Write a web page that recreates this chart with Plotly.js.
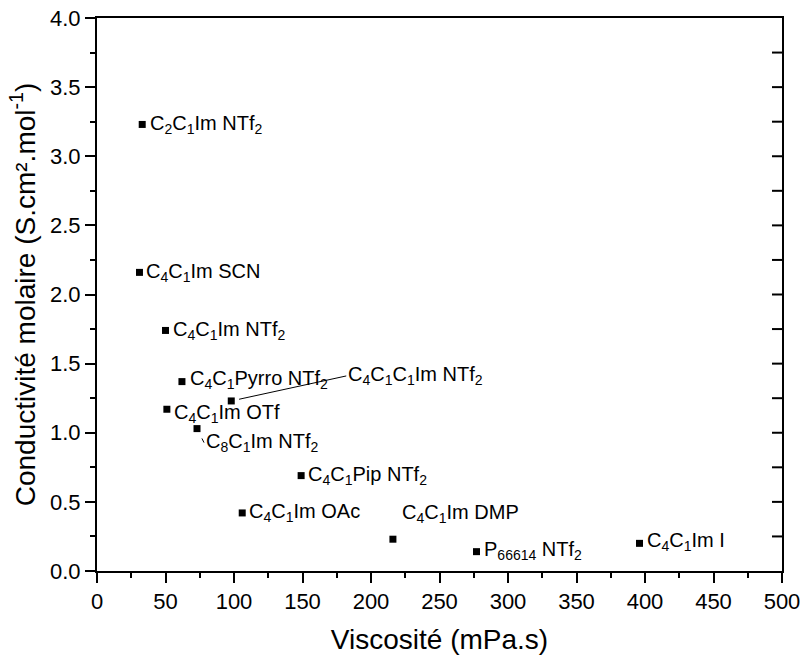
<!DOCTYPE html>
<html>
<head>
<meta charset="utf-8">
<script src="https://cdn.plot.ly/plotly-3.0.1.min.js"></script>
<style>html,body{margin:0;padding:0;background:#fff;}#chart{width:801px;height:655px;}</style>
</head>
<body>
<div id="chart"></div>
<script>
// Data
const labels = [
  'C<sub>2</sub>C<sub>1</sub>Im NTf<sub>2</sub>',
  'C<sub>4</sub>C<sub>1</sub>Im SCN',
  'C<sub>4</sub>C<sub>1</sub>Im NTf<sub>2</sub>',
  'C<sub>4</sub>C<sub>1</sub>Pyrro NTf<sub>2</sub>',
  'C<sub>4</sub>C<sub>1</sub>C<sub>1</sub>Im NTf<sub>2</sub>',
  'C<sub>4</sub>C<sub>1</sub>Im OTf',
  'C<sub>8</sub>C<sub>1</sub>Im NTf<sub>2</sub>',
  'C<sub>4</sub>C<sub>1</sub>Pip NTf<sub>2</sub>',
  'C<sub>4</sub>C<sub>1</sub>Im OAc',
  'C<sub>4</sub>C<sub>1</sub>Im DMP',
  'P<sub>66614</sub> NTf<sub>2</sub>',
  'C<sub>4</sub>C<sub>1</sub>Im I'
];
const viscosity = [33, 31, 50, 62, 98, 51, 73, 149, 106, 216, 277, 396];
const conductivity = [3.23, 2.16, 1.74, 1.37, 1.23, 1.17, 1.03, 0.69, 0.42, 0.23, 0.14, 0.20];
const xTicks = [0, 50, 100, 150, 200, 250, 300, 350, 400, 450, 500];
const yTicks = [0.0, 0.5, 1.0, 1.5, 2.0, 2.5, 3.0, 3.5, 4.0];
const yMinorTicks = [0.25, 0.75, 1.25, 1.75, 2.25, 2.75, 3.25, 3.75];

const xRange = [xTicks[0], xTicks[xTicks.length - 1]];
const yRange = [yTicks[0], yTicks[yTicks.length - 1]];

// Label placement (pixel offsets from each point; style, not data)
// non-arrow: dy positive = up ; arrow: ay positive = down
const labelPlacement = [
  {dx: 6, dy: 0},
  {dx: 5, dy: 0},
  {dx: 5, dy: 0},
  {dx: 6, dy: 2},
  {dx: 115, dy: -25, arrow: true, standoff: 8},
  {dx: 5, dy: -4},
  {dx: 7, dy: 14, arrow: true, standoff: 11},
  {dx: 5, dy: 0},
  {dx: 5, dy: 0},
  {dx: 7, dy: 26},
  {dx: 6, dy: 1},
  {dx: 5, dy: 2}
];

const FONT = 'Liberation Sans, Arial, Helvetica, sans-serif';
const W = 801, H = 655;
const M = {l: 97, r: 19, t: 18, b: 83.5};
const plotW = W - M.l - M.r;
const TICKLEN_RIGHT = 10;

const annotations = labels.map((t, i) => {
  const p = labelPlacement[i];
  const a = {
    x: viscosity[i], y: conductivity[i], xref: 'x', yref: 'y',
    text: t, xanchor: 'left', yanchor: 'middle',
    font: {family: FONT, size: 20, color: '#000'}
  };
  if (p.arrow) {
    Object.assign(a, {showarrow: true, ax: p.dx, ay: p.dy, axref: 'pixel', ayref: 'pixel',
      arrowhead: 0, arrowwidth: 1, arrowcolor: '#000', standoff: p.standoff});
  } else {
    Object.assign(a, {showarrow: false, xshift: p.dx, yshift: p.dy});
  }
  return a;
});

// inward ticks on the right-hand frame, one per tick value (major and minor)
const rightTicks = yTicks.slice(1, -1).concat(yMinorTicks).map(v => ({
  type: 'line', xref: 'paper', x0: 1 - TICKLEN_RIGHT / plotW, x1: 1,
  yref: 'y', y0: v, y1: v, line: {color: '#000', width: 2}, layer: 'above'
}));

const trace = {
  x: viscosity, y: conductivity, type: 'scatter', mode: 'markers',
  marker: {symbol: 'square', size: 7, color: '#000'},
  showlegend: false
};

const layout = {
  width: W, height: H,
  margin: M,
  paper_bgcolor: '#fff', plot_bgcolor: '#fff',
  font: {family: FONT, color: '#000'},
  showlegend: false,
  xaxis: {
    range: xRange, tickvals: xTicks, ticktext: xTicks.map(String),
    ticks: 'outside', ticklen: 10, tickwidth: 2, tickcolor: '#000',
    minor: {dtick: 25, tick0: 0, ticks: 'outside', ticklen: 5, tickwidth: 2, tickcolor: '#000', showgrid: false},
    showline: true, linewidth: 2, linecolor: '#000', mirror: true,
    showgrid: false, zeroline: false,
    tickfont: {family: FONT, size: 22, color: '#000'},
    title: {text: 'Viscosité (mPa.s)', font: {family: FONT, size: 28, color: '#000'}, standoff: 21}
  },
  yaxis: {
    range: yRange, tickvals: yTicks, ticktext: yTicks.map(v => v.toFixed(1)),
    ticks: 'outside', ticklen: 10, tickwidth: 2, tickcolor: '#000',
    minor: {dtick: 0.25, tick0: 0, ticks: 'outside', ticklen: 5, tickwidth: 2, tickcolor: '#000', showgrid: false},
    showline: true, linewidth: 2, linecolor: '#000', mirror: true,
    showgrid: false, zeroline: false,
    tickfont: {family: FONT, size: 22, color: '#000'},
    title: {text: 'Conductivité molaire (S.cm².mol<sup>-1</sup>)', font: {family: FONT, size: 28, color: '#000'}, standoff: 6}
  },
  shapes: rightTicks,
  annotations: annotations
};

Plotly.newPlot('chart', [trace], layout, {staticPlot: true, displayModeBar: false});
</script>
</body>
</html>
